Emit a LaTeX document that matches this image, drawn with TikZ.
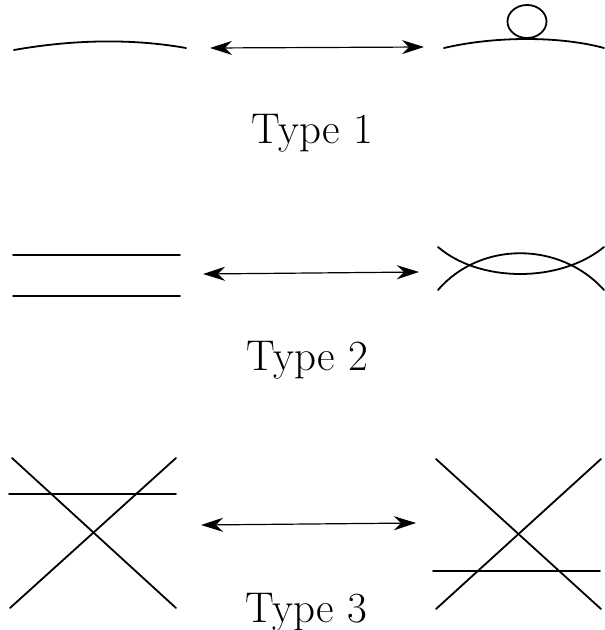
\documentclass[tikz,border=0pt]{standalone}
\usetikzlibrary{arrows.meta}
\begin{document}
\begin{tikzpicture}[x=1pt,y=-1pt,
  strand/.style={line width=1.8pt,line cap=round},
  move/.style={line width=1.2pt,{Stealth[length=22pt,width=14pt,inset=7pt]}-{Stealth[length=22pt,width=14pt,inset=7pt]}},
  lbl/.style={anchor=base,inner sep=0pt,font=\fontsize{43}{50}\selectfont}]
\useasboundingbox (0,0) rectangle (605,630);
% Type 1
\draw[strand] (14,50) .. controls (70,40) and (130,38) .. (186,48);
\draw[strand] (444,48) .. controls (495,36) and (560,36) .. (604,48);
\draw[strand] (527,21.5) ellipse [x radius=19.5, y radius=16.5];
\coordinate (a1) at (210,48);
\coordinate (b1) at (424,47);
\draw[move] (a1) -- (b1);
\node[lbl] (t1) at (312,143) {Type 1};
% Type 2
\draw[strand] (13,255) -- (180,255);
\draw[strand] (13,296) -- (180,296);
\draw[strand] (438,247) .. controls (480,283) and (560,283) .. (604,247);
\draw[strand] (438,290) .. controls (480,241) and (560,241) .. (604,290);
\coordinate (a2) at (203,274);
\coordinate (b2) at (419,272);
\draw[move] (a2) -- (b2);
\node[lbl] (t2) at (307,370) {Type 2};
% Type 3
\draw[strand] (12,458) -- (176,608);
\draw[strand] (176,458) -- (10,608);
\draw[strand] (9,494) -- (176,494);
\draw[strand] (436,459) -- (601,609);
\draw[strand] (601,459) -- (436,609);
\draw[strand] (433,571) -- (600,571);
\coordinate (a3) at (201,525);
\coordinate (b3) at (416,523);
\draw[move] (a3) -- (b3);
\node[lbl] (t3) at (306,622) {Type 3};
\end{tikzpicture}
\end{document}
